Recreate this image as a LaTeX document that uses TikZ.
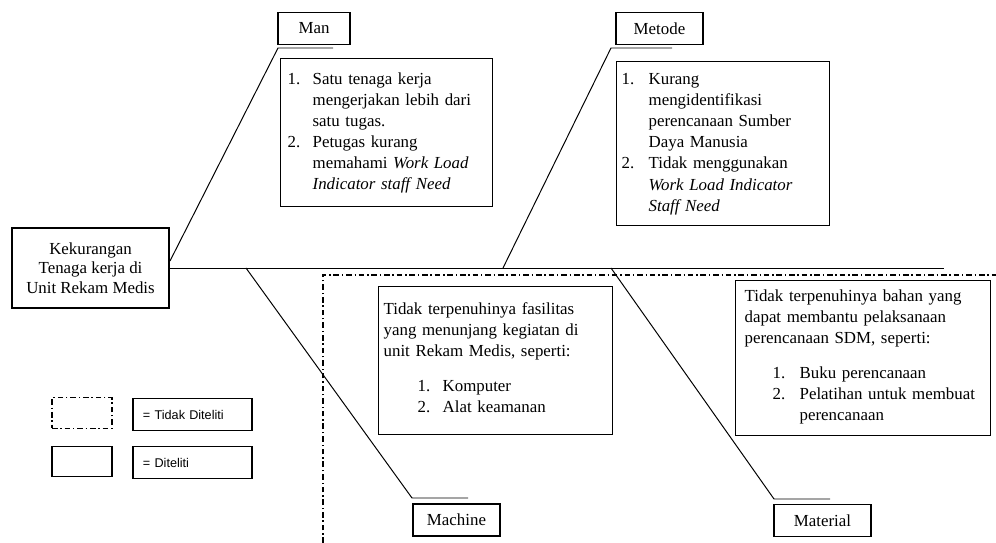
\documentclass[tikz,border=0pt]{standalone}
\usepackage{fontspec}
\setmainfont{Liberation Serif}
\newfontfamily\legendfont{Liberation Sans}
\usepackage{array}
\usetikzlibrary{positioning}
\tikzstyle{cat box}=[draw,line width=0.9pt,inner sep=0pt,minimum height=0.8cm,font=\fontsize{12}{14}\selectfont]
\tikzstyle{cause box}=[draw,line width=0.9pt,anchor=north west,align=left,inner ysep=0pt,font=\fontsize{12}{15}\selectfont]
\tikzstyle{head box}=[draw,line width=0.9pt,align=center,minimum width=3.925cm,minimum height=2cm,inner sep=0pt,font=\fontsize{12}{14}\selectfont]
\tikzstyle{bone}=[draw,line width=0.7pt]
\tikzstyle{not studied}=[draw,line width=0.8pt,dash pattern=on 4pt off 2pt on 1pt off 2pt]
\tikzstyle{swatch}=[draw,line width=0.8pt,minimum width=1.5cm,minimum height=0.76cm,inner sep=0pt]
\tikzstyle{key}=[draw,line width=0.8pt,minimum height=0.82cm,text width=2.475cm,inner xsep=0.25cm,inner ysep=0pt,align=left,font=\legendfont\fontsize{9}{10}\selectfont]
\newcommand{\numlist}[1]{\begin{tabular}[t]{@{}p{0.625cm}@{}l@{}}#1\end{tabular}}

\begin{document}
\begin{tikzpicture}[x=0.025cm,y=-0.025cm]
   \useasboundingbox (0,0) rectangle (996,543);
   \node[head box] (kekurangan) at (90.5,268) {Kekurangan\\Tenaga kerja di\\Unit Rekam Medis};
   \foreach \pos/\w/\name/\txt in {{(314,28.5)/1.8/man/Man}, {(659.5,28.5)/2.175/metode/Metode},
        {(456.5,520)/2.175/machine/Machine}, {(822.5,520.5)/2.425/material/Material}}
        \node[cat box,minimum width=\w cm] (\name) at \pos {\txt};
   \coordinate (manRoot) at (170,261);
   \coordinate (manKnee) at (278,48);
   \coordinate (manToe) at (333,48);
   \coordinate (metodeRoot) at (503,268);
   \coordinate (metodeKnee) at (611,48);
   \coordinate (metodeToe) at (672,48);
   \coordinate (machineRoot) at (246,268);
   \coordinate (machineKnee) at (412,498);
   \coordinate (machineToe) at (468,498);
   \coordinate (materialRoot) at (611,268);
   \coordinate (materialKnee) at (774,499);
   \coordinate (materialToe) at (830,499);
   \coordinate (spineEnd) at (944,268);
   \path[bone] (kekurangan.east) -- (spineEnd);
   \foreach \name in {man,metode,machine,material}
        \path[bone] (\name Root) -- (\name Knee) -- (\name Toe);
   \coordinate (regionA) at (323,543);
   \coordinate (regionB) at (323,275);
   \coordinate (regionC) at (996,275);
   \path[not studied] (regionA) -- (regionB) -- (regionC);
   \node[cause box,inner xsep=0.175cm,text width=4.95cm,minimum height=3.7cm] (manTxt) at (280,58)
        {\numlist{1. & Satu tenaga kerja\\ & mengerjakan lebih dari\\ & satu tugas.\\
        2. & Petugas kurang\\ & memahami \textit{Work Load}\\ & \textit{Indicator staff Need}}};
   \node[cause box,inner xsep=0.125cm,text width=5.075cm,minimum height=4.1cm] (metodeTxt) at (616,61)
        {\begin{tabular}[t]{@{}p{0.675cm}@{}l@{}}1. & Kurang\\ & mengidentifikasi\\ & perencanaan Sumber\\ & Daya Manusia\\
        2. & Tidak menggunakan\\ & \textit{Work Load Indicator}\\ & \textit{Staff Need}\end{tabular}};
   \node[cause box,inner xsep=0.125cm,text width=5.6cm,minimum height=3.7cm] (machineTxt) at (378,286)
        {Tidak terpenuhinya fasilitas\\ yang menunjang kegiatan di\\ unit Rekam Medis, seperti:\\[10pt]
        \hspace*{0.85cm}\numlist{1. & Komputer\\ 2. & Alat keamanan}};
   \node[cause box,inner xsep=0.225cm,text width=5.925cm,minimum height=3.875cm] (materialTxt) at (735,280)
        {Tidak terpenuhinya bahan yang\\ dapat membantu pelaksanaan\\ perencanaan SDM, seperti:\\[10pt]
        \hspace*{0.7cm}\begin{tabular}[t]{@{}p{0.675cm}@{}l@{}}1. & Buku perencanaan\\ 2. & Pelatihan untuk membuat\\ & perencanaan\end{tabular}};
   \node[swatch,not studied] (swatchOut) at (82,413) {};
   \node[swatch] (swatchIn) at (82,461.5) {};
   \node[key] (keyOut) at (192.5,414.5) {= Tidak Diteliti};
   \node[key] (keyIn) at (192.5,462.5) {= Diteliti};
\end{tikzpicture}
\end{document}
